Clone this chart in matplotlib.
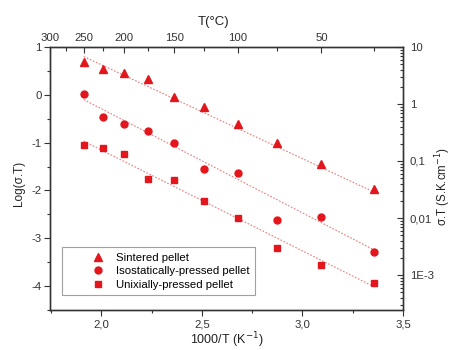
import numpy as np
import matplotlib
matplotlib.use("Agg")
import matplotlib.pyplot as plt
from matplotlib.ticker import FixedLocator, MultipleLocator, LogLocator, NullFormatter

plt.rcParams['font.family'] = ['Liberation Sans', 'DejaVu Sans']

# ---- data ----
temps_c = [250, 225, 200, 175, 150, 125, 100, 75, 50, 25]
inv_T = [1000.0 / (t + 273.15) for t in temps_c]

sintered = [0.68, 0.54, 0.46, 0.33, -0.05, -0.25, -0.60, -1.01, -1.45, -1.98]
isostatic = [0.02, -0.47, -0.61, -0.76, -1.01, -1.55, -1.64, -2.62, -2.56, -3.28]
uniaxial = [-1.05, -1.12, -1.24, -1.77, -1.79, -2.23, -2.58, -3.20, -3.55, -3.94]

fit_x = [1.912, 3.354]
fit_sintered = [0.80, -2.03]
fit_isostatic = [-0.10, -3.24]
fit_uniaxial = [-0.97, -4.01]

labels = ["Sintered pellet", "Isostatically-pressed pellet", "Unixially-pressed pellet"]

top_major_T = [300, 250, 200, 150, 100, 50]
top_minor_T = [275, 225, 175, 125, 75, 25]

bottom_ticks = [2.0, 2.5, 3.0, 3.5]
bottom_labels = ["2,0", "2,5", "3,0", "3,5"]
left_ticks = [1, 0, -1, -2, -3, -4]
right_ticks = [10, 1, 0.1, 0.01, 0.001]
right_labels = ["10", "1", "0,1", "0,01", "1E-3"]

# ---- figure ----
red = '#e3161d'
line_red = '#ec7b7b'
axis_col = '#333333'
fs = 8.2

fig = plt.figure(figsize=(4.54, 3.5), dpi=100)
ax = fig.add_axes([50/454, 40/350, 353/454, 263/350])

for yfit in (fit_sintered, fit_isostatic, fit_uniaxial):
    ax.plot(fit_x, yfit, linestyle=(0, (1.5, 1.5)), color=line_red, lw=0.8, zorder=1)

ax.plot(inv_T, sintered, '^', color=red, ms=5.5, mec=red, label=labels[0], zorder=3)
ax.plot(inv_T, isostatic, 'o', color=red, ms=5, mec=red, label=labels[1], zorder=3)
ax.plot(inv_T, uniaxial, 's', color=red, ms=4.5, mec=red, label=labels[2], zorder=3)

ax.set_xlim(1.744, 3.5)
ax.set_ylim(-4.5, 1)
ax.set_xticks(bottom_ticks)
ax.set_xticklabels(bottom_labels)
ax.xaxis.set_minor_locator(MultipleLocator(0.25))
ax.set_yticks(left_ticks)
ax.set_yticklabels([str(v) for v in left_ticks])
ax.yaxis.set_minor_locator(MultipleLocator(0.5))
ax.tick_params(which='both', direction='out', colors=axis_col, labelsize=fs, width=0.8)
ax.tick_params(which='major', length=4, pad=2)
ax.tick_params(which='minor', length=2.5)
ax.tick_params(axis='x', pad=3)
for s in ax.spines.values():
    s.set_color(axis_col)
    s.set_linewidth(0.9)

ax.set_xlabel("1000/T (K$^{-1}$)", fontsize=9, color='#222222', labelpad=0.5)
ax.set_ylabel("Log(σ.T)", fontsize=8.5, color='#222222')
ax.yaxis.set_label_coords(-0.072, 0.48)

leg = ax.legend(loc='lower left', bbox_to_anchor=(0.034, 0.057), borderaxespad=0,
                fontsize=fs, frameon=True, fancybox=False, edgecolor='#888888',
                handlelength=5.4, handletextpad=-1.1, borderpad=0.45, labelspacing=0.32)
leg.get_frame().set_linewidth(0.8)

# right log axis
axr = ax.twinx()
axr.set_yscale('log')
axr.set_ylim(10 ** (1 - 263 / 57.0), 10)
axr.yaxis.set_major_locator(FixedLocator(right_ticks))
axr.set_yticklabels(right_labels)
axr.yaxis.set_minor_locator(LogLocator(base=10, subs=np.arange(2, 10)))
axr.yaxis.set_minor_formatter(NullFormatter())
axr.tick_params(which='both', direction='in', colors=axis_col, labelsize=fs, width=0.8)
axr.tick_params(which='major', length=4, pad=5)
axr.tick_params(which='minor', length=2)
axr.set_ylabel("σ.T (S.K.cm$^{-1}$)", fontsize=8.3, color='#222222')
axr.yaxis.set_label_coords(1.086, 0.47)

# top temperature axis
axt = ax.twiny()
axt.set_xlim(ax.get_xlim())
axt.xaxis.set_major_locator(FixedLocator([1000.0 / (t + 273.15) for t in top_major_T]))
axt.set_xticklabels([str(t) for t in top_major_T])
axt.xaxis.set_minor_locator(FixedLocator([1000.0 / (t + 273.15) for t in top_minor_T]))
axt.tick_params(which='both', direction='in', colors=axis_col, labelsize=fs, width=0.8)
axt.tick_params(which='major', length=4, pad=3)
axt.tick_params(which='minor', length=3)
axt.set_xlabel("T(°C)", fontsize=9.5, color='#222222')
axt.xaxis.set_label_coords(0.462, 1.085)

for a in (axr, axt):
    for s in a.spines.values():
        s.set_color(axis_col)
        s.set_linewidth(0.9)

fig.savefig("out.png", dpi=100)
